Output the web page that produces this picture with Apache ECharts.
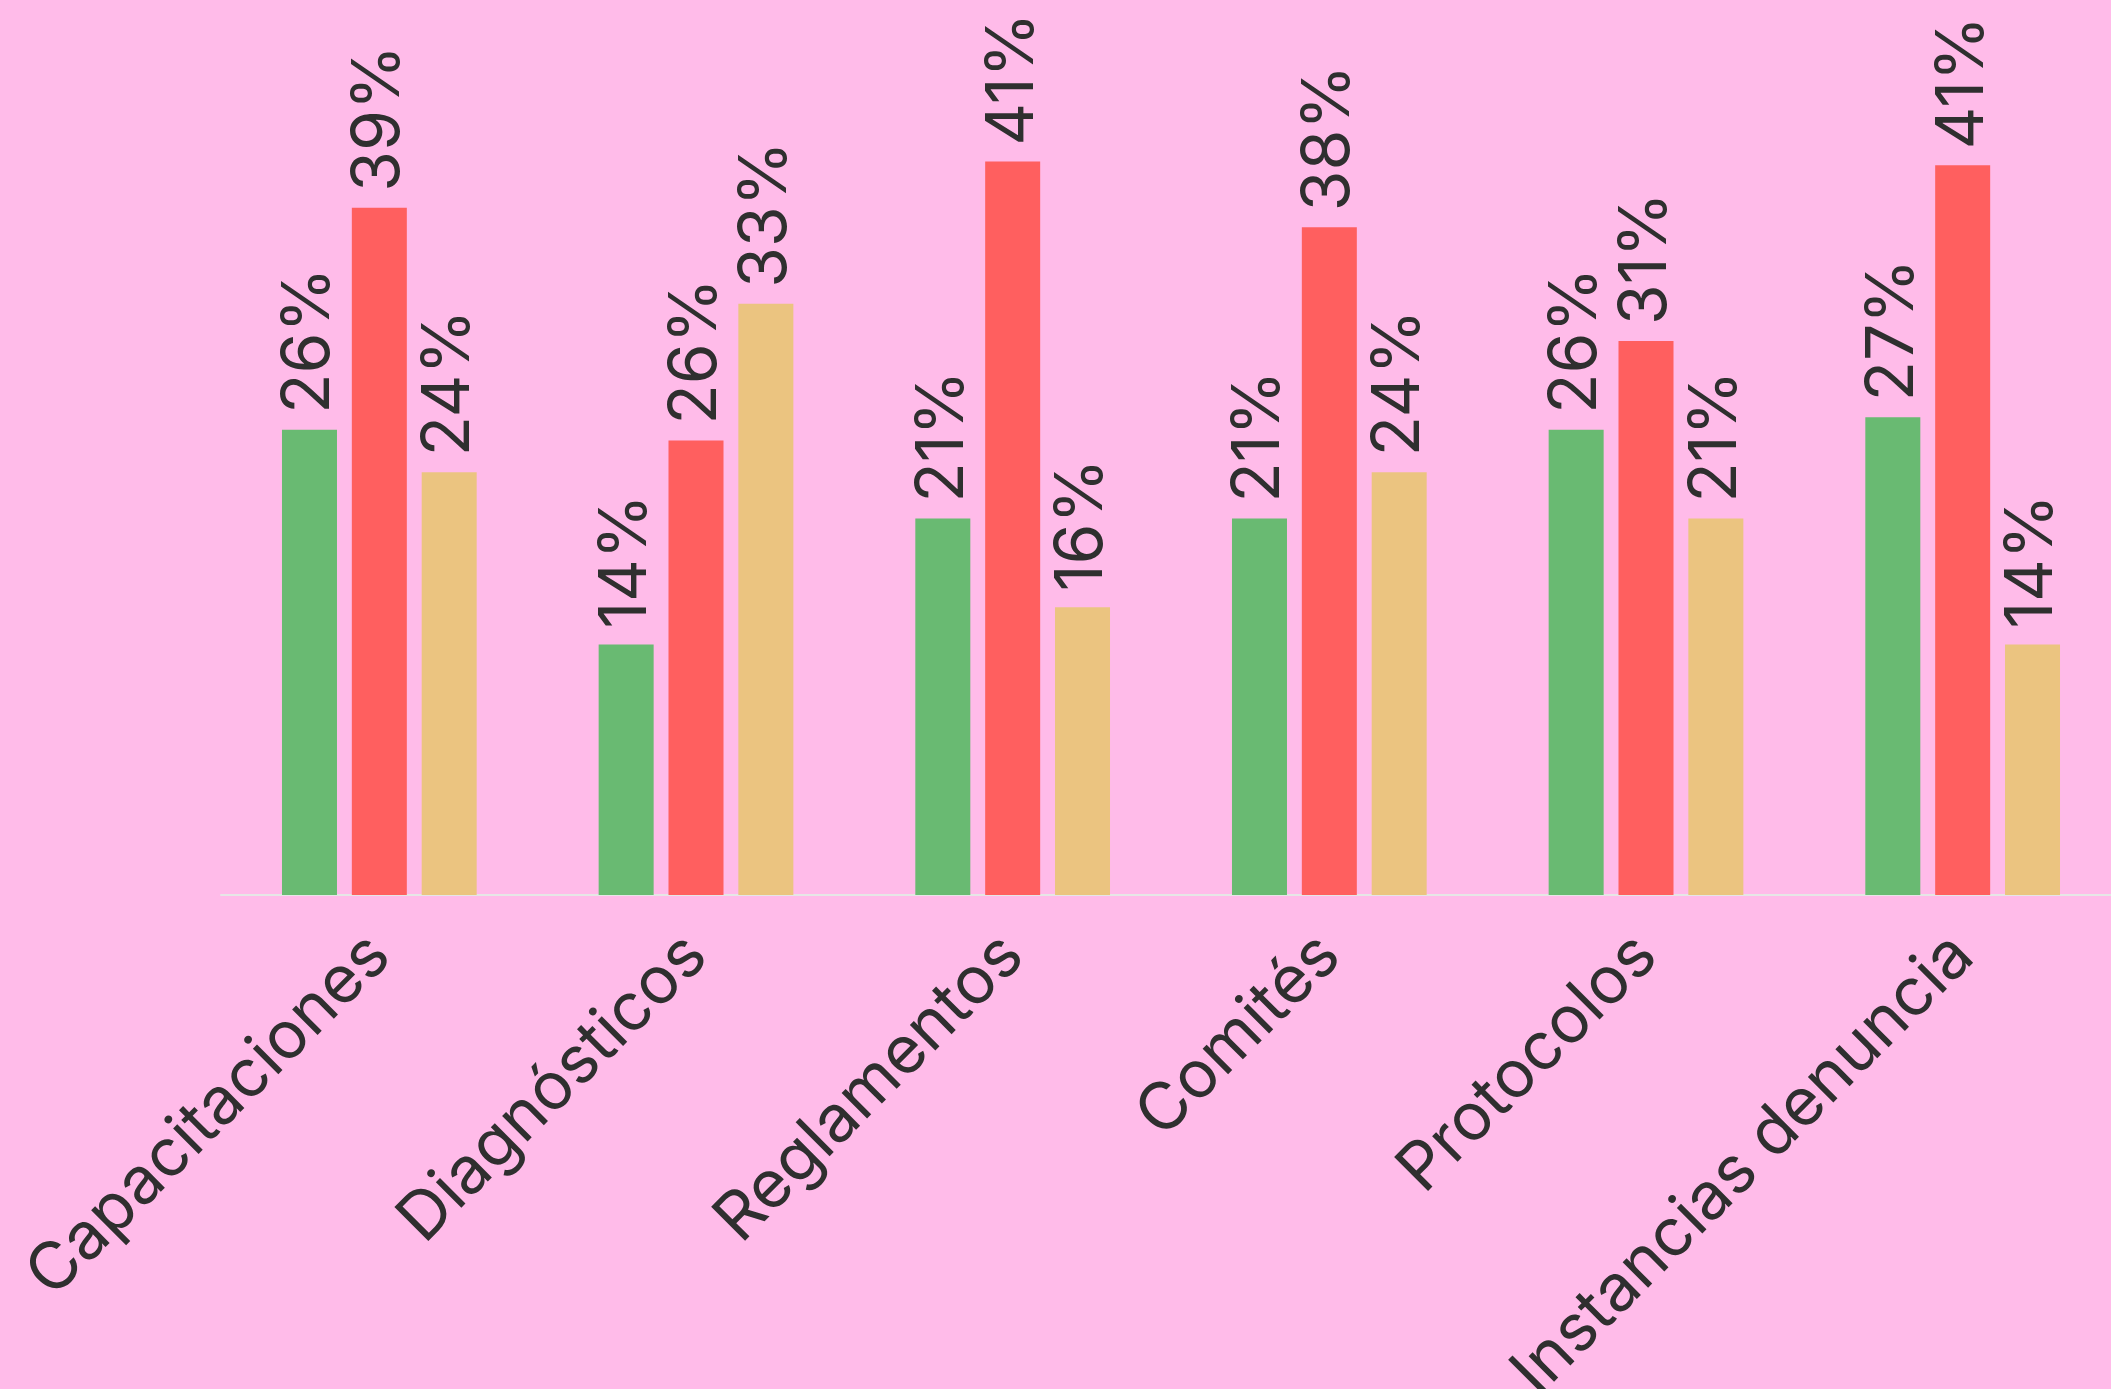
<!DOCTYPE html>
<html>
<head>
<meta charset="utf-8">
<script src="https://cdn.jsdelivr.net/npm/echarts@6/dist/echarts.min.js"></script>
<style>
html,body{margin:0;padding:0;background:#ffbbe9;}
#c{width:2111px;height:1389px;}
</style>
</head>
<body>
<div id="c"></div>
<script>
const categories = ['Capacitaciones', 'Diagnósticos', 'Reglamentos', 'Comités', 'Protocolos', 'Instancias denuncia'];
const seriesGreen = [26.2, 14.1, 21.2, 21.2, 26.2, 26.9];
const seriesRed = [38.7, 25.6, 41.3, 37.6, 31.2, 41.1];
const seriesYellow = [23.8, 33.3, 16.2, 23.8, 21.2, 14.1];

const FONT = 'Inter';
const TEXT = '#2f2f2f';

function mkSeries(data, color) {
  return {
    type: 'bar',
    data: data,
    barWidth: 55,
    barGap: '27%',
    itemStyle: { color: color },
    label: {
      show: true,
      position: 'top',
      rotate: 90,
      align: 'left',
      verticalAlign: 'middle',
      distance: 16,
      fontFamily: FONT,
      fontSize: 66,
      color: TEXT,
      formatter: p => Math.round(p.value) + '%'
    },
    silent: true
  };
}

const chart = echarts.init(document.getElementById('c'), null, { renderer: 'canvas' });
chart.setOption({
  backgroundColor: '#ffbbe9',
  animation: false,
  grid: { left: 221, right: -10, top: 0, bottom: 494, containLabel: false, outerBoundsMode: 'none' },
  xAxis: {
    type: 'category',
    data: categories,
    axisLine: { show: true, lineStyle: { color: '#e6e6e6', width: 2 } },
    axisTick: { show: false },
    axisLabel: {
      rotate: 45,
      margin: 50,
      interval: 0,
      fontFamily: FONT,
      fontSize: 66,
      color: TEXT
    }
  },
  yAxis: {
    type: 'value',
    min: 0,
    max: 50.4,
    show: false,
    splitLine: { show: false }
  },
  series: [
    mkSeries(seriesGreen, '#69ba72'),
    mkSeries(seriesRed, '#ff5f5f'),
    mkSeries(seriesYellow, '#ebc480')
  ]
});
</script>
</body>
</html>
